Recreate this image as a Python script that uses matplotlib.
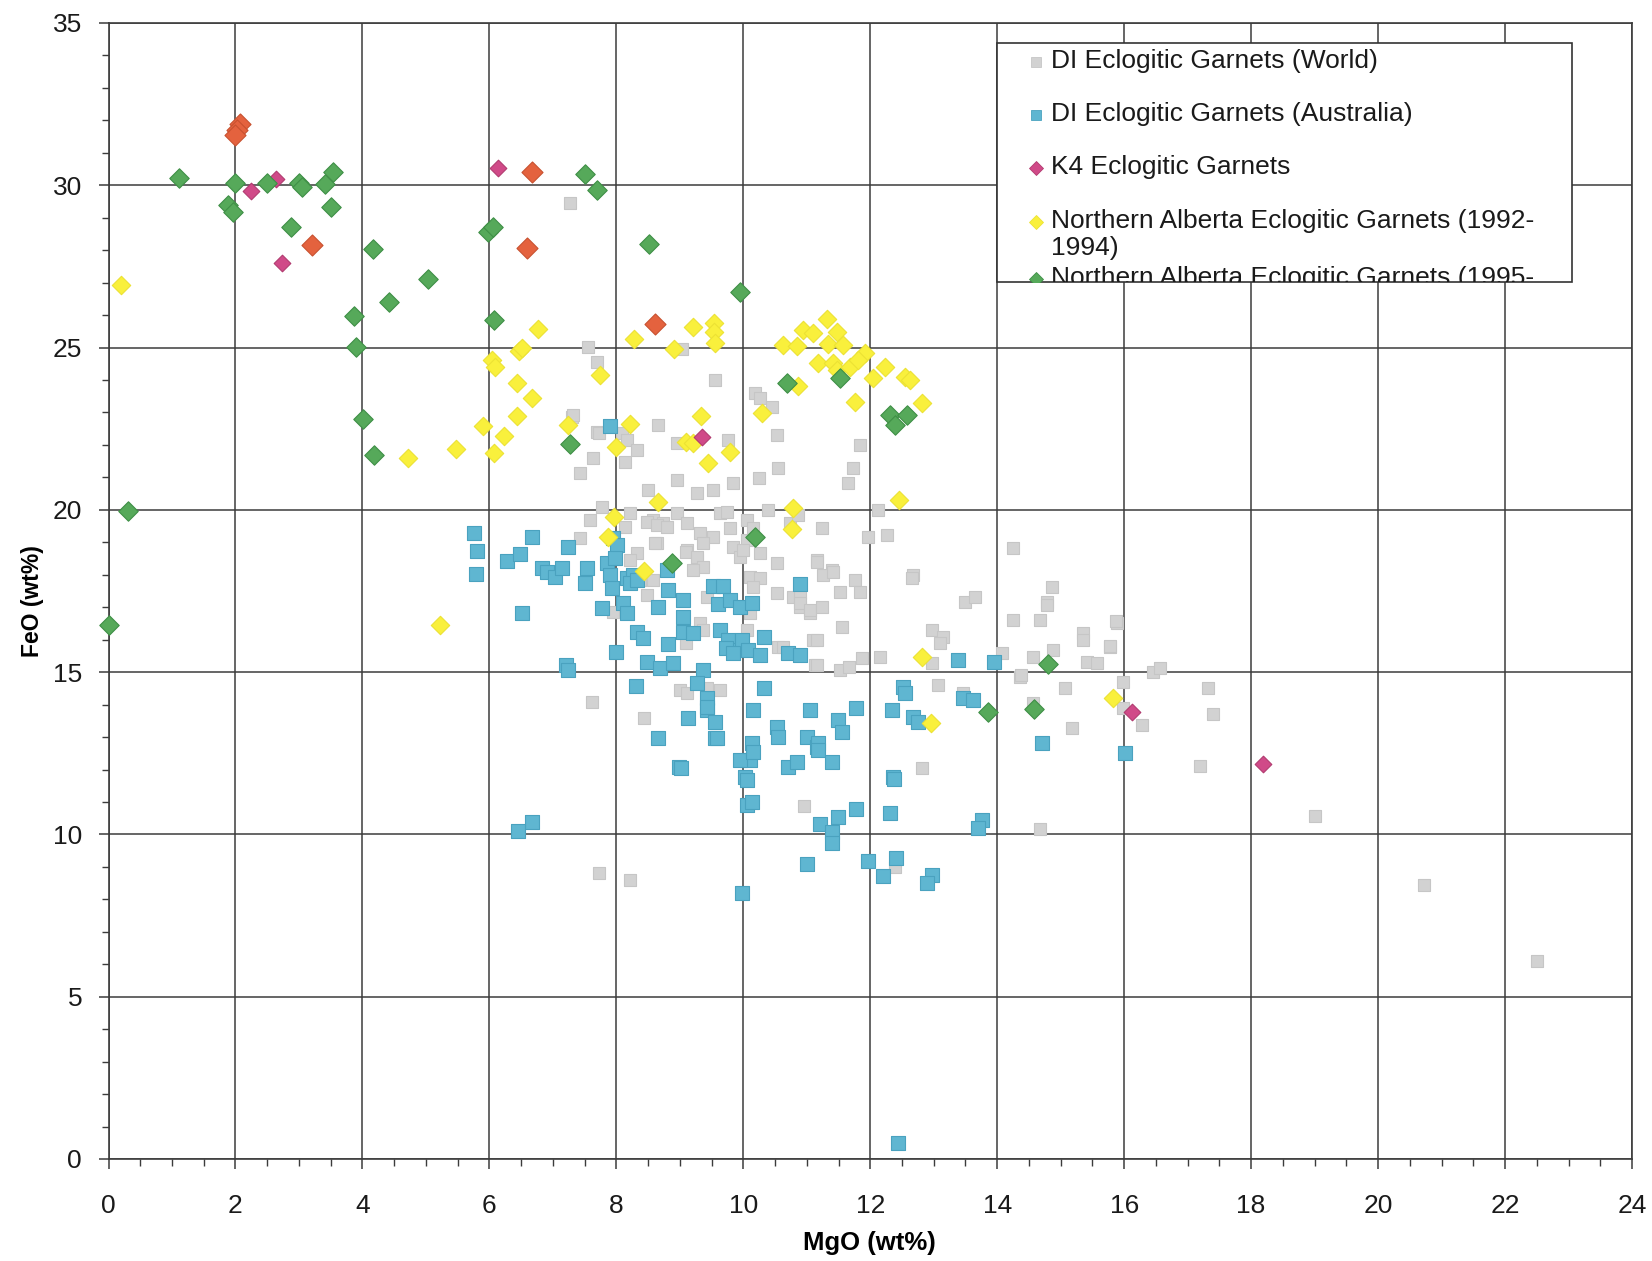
import matplotlib.pyplot as plt
from matplotlib.lines import Line2D
from matplotlib.patches import Rectangle
from matplotlib.ticker import MultipleLocator
from matplotlib.transforms import Bbox, TransformedBbox

plt.rcParams['font.family'] = 'Liberation Sans'

# DI eclogitic garnets, world dataset
world_mgo = [7.27, 7.55, 7.69, 7.3, 7.69, 7.63, 7.43, 9.04, 9.56, 10.19, 10.26, 10.45, 7.32, 7.73,
             8.09, 8.17, 8.33, 8.66, 8.14, 8.96, 9.76, 10.53, 11.84, 11.73, 11.65, 10.55, 10.25, 9.84,
             8.96, 8.5, 9.27, 9.52, 7.78, 8.22, 7.59, 8.14, 8.58, 8.74, 8.96, 9.11, 9.63, 9.74, 9.79,
             9.32, 9.52, 9.37, 10.06, 10.16, 10.06, 10.39, 10.74, 10.86, 11.24, 11.97, 12.12, 12.26,
             7.43, 8.64, 9.11, 9.27, 9.84, 9.95, 10.26, 10.53, 11.16, 11.4, 8.33, 8.22, 12.67, 8.48,
             8.64, 8.8, 8.61, 9.09, 9.27, 9.37, 9.21, 10.0, 10.1, 10.26, 10.16, 10.53, 9.68, 9.43,
             8.38, 8.58, 8.48, 7.95, 9.32, 9.37, 10.1, 10.06, 10.79, 10.9, 11.05, 10.55, 11.1, 9.09,
             11.13, 9.01, 9.11, 9.43, 9.63, 7.62, 8.44, 14.25, 11.16, 11.26, 11.42, 11.76, 11.84,
             11.52, 12.66, 13.49, 13.65, 14.86, 14.78, 14.78, 14.25, 14.67, 15.89, 15.35, 15.35,
             15.77, 14.88, 14.56, 15.41, 15.57, 14.08, 10.9, 10.9, 11.05, 11.24, 11.56, 11.16, 10.63,
             11.16, 11.52, 11.66, 11.87, 12.15, 12.97, 13.15, 13.1, 12.97, 14.36, 15.98, 15.07, 13.07,
             13.46, 14.56, 15.98, 16.28, 15.18, 12.82, 16.45, 16.56, 17.32, 17.4, 17.19, 19.01, 14.67,
             20.72, 22.5, 7.72, 8.22, 10.96, 12.39, 15.87, 15.78, 14.38]
world_feo = [29.45, 25.02, 24.55, 22.86, 22.4, 21.6, 21.13, 24.95, 24.0, 23.6, 23.44, 23.17, 22.92, 22.37,
             22.37, 22.15, 21.84, 22.61, 21.47, 22.06, 22.15, 22.3, 22.0, 21.29, 20.83, 21.29, 20.98, 20.83,
             20.92, 20.61, 20.52, 20.61, 20.09, 19.9, 19.69, 19.47, 19.69, 19.59, 19.9, 19.59, 19.9, 19.93,
             19.44, 19.28, 19.16, 18.98, 19.69, 19.44, 19.07, 19.99, 19.59, 19.84, 19.44, 19.16, 19.99,
             19.22, 19.13, 18.98, 18.76, 18.45, 18.85, 18.55, 18.67, 18.36, 18.45, 18.15, 18.67, 18.45,
             17.99, 19.62, 19.53, 19.47, 18.98, 18.7, 18.55, 18.24, 18.15, 18.76, 17.93, 17.9, 17.62,
             17.44, 17.62, 17.31, 17.84, 17.84, 17.38, 16.85, 16.51, 16.3, 16.82, 16.3, 17.31, 17.01,
             16.82, 15.77, 15.99, 15.9, 15.22, 14.45, 14.36, 14.51, 14.45, 14.08, 13.59, 18.82, 18.39,
             17.99, 18.08, 17.84, 17.47, 17.47, 17.9, 17.16, 17.31, 17.62, 17.16, 17.07, 16.6, 16.6,
             16.51, 16.2, 15.99, 15.77, 15.68, 15.47, 15.31, 15.28, 15.59, 17.44, 17.13, 16.91, 17.01,
             16.39, 15.99, 15.77, 15.22, 15.06, 15.16, 15.43, 15.47, 16.3, 16.08, 15.9, 15.28, 14.85,
             14.69, 14.51, 14.6, 14.36, 14.05, 13.89, 13.37, 13.28, 12.05, 15.0, 15.13, 14.51, 13.71,
             12.11, 10.57, 10.17, 8.44, 6.1, 8.81, 8.59, 10.87, 9.0, 16.57, 15.8, 14.91]

# DI eclogitic garnets, Australia
aus_mgo = [7.9, 5.75, 5.8, 5.79, 6.67, 6.28, 6.49, 7.24, 6.83, 6.91, 7.03, 7.14, 7.54, 7.51, 7.95, 8.01,
           7.85, 7.98, 7.9, 7.93, 8.17, 8.27, 8.22, 8.33, 7.78, 8.11, 8.17, 8.8, 8.81, 8.66, 9.05, 9.05,
           9.52, 9.68, 9.6, 9.79, 9.95, 10.14, 8.33, 8.42, 9.05, 9.21, 9.63, 9.76, 9.87, 9.72, 9.98, 9.84,
           10.08, 10.26, 10.32, 8.81, 8.0, 8.49, 8.69, 8.9, 9.37, 9.27, 9.43, 9.43, 9.56, 9.56, 9.13, 8.66,
           8.99, 8.31, 7.2, 7.24, 6.51, 10.32, 10.16, 11.05, 10.53, 10.55, 11.0, 11.16, 10.14, 10.1, 9.95,
           10.71, 10.85, 10.03, 10.9, 10.71, 10.9, 13.38, 13.95, 12.52, 12.55, 13.46, 13.62, 12.34, 12.68,
           12.75, 11.78, 11.49, 11.56, 11.18, 11.18, 11.4, 14.71, 16.01, 12.36, 6.67, 6.45, 9.02, 10.16,
           10.06, 10.06, 10.14, 11.78, 12.31, 12.37, 11.21, 11.49, 11.4, 11.4, 11.0, 11.96, 12.41, 12.2,
           12.97, 12.89, 9.98, 13.76, 13.69, 12.44, 9.43, 9.59]
aus_feo = [22.58, 19.28, 18.73, 18.02, 19.16, 18.42, 18.64, 18.85, 18.21, 18.08, 17.93, 18.21, 18.21, 17.75,
           19.13, 18.92, 18.36, 18.52, 17.99, 17.59, 17.9, 17.99, 17.75, 17.84, 16.97, 17.13, 16.82, 18.15,
           17.53, 17.01, 17.22, 16.7, 17.65, 17.65, 17.1, 17.22, 17.01, 17.13, 16.24, 16.05, 16.24, 16.2,
           16.3, 15.99, 15.68, 15.74, 15.99, 15.59, 15.68, 15.53, 16.08, 15.87, 15.62, 15.31, 15.13, 15.28,
           15.06, 14.66, 14.2, 13.83, 13.46, 12.97, 13.59, 12.97, 12.08, 14.57, 15.22, 15.06, 16.82, 14.51,
           13.83, 13.83, 13.31, 13.0, 13.0, 12.69, 12.82, 12.29, 12.29, 12.08, 12.23, 11.77, 17.71, 15.59,
           15.53, 15.37, 15.31, 14.54, 14.36, 14.2, 14.14, 13.83, 13.62, 13.46, 13.89, 13.52, 13.15, 12.82,
           12.6, 12.23, 12.82, 12.51, 11.77, 10.38, 10.1, 12.05, 12.54, 11.68, 10.9, 11.0, 10.78, 10.66,
           11.71, 10.32, 10.54, 10.07, 9.73, 9.09, 9.18, 9.27, 8.72, 8.75, 8.5, 8.19, 10.44, 10.2, 0.49,
           13.92, 12.97]

# K4 eclogitic garnets
k4_mgo = [2.24, 2.64, 2.73, 6.13, 9.35, 16.13, 18.18]
k4_feo = [29.82, 30.19, 27.6, 30.53, 22.24, 13.77, 12.17]

# Northern Alberta, 1992-1994
na92_mgo = [0.2, 4.72, 5.48, 5.9, 6.07, 6.23, 6.43, 6.67, 6.43, 6.04, 6.09, 6.47, 6.52, 6.77, 7.24, 7.74,
            8.28, 8.91, 9.21, 9.54, 9.54, 9.56, 10.63, 10.85, 10.94, 11.1, 11.32, 11.48, 11.34, 11.57,
            11.92, 11.18, 11.41, 11.48, 11.68, 11.81, 10.86, 12.04, 12.23, 12.55, 12.63, 12.82, 11.76,
            10.29, 8.21, 9.33, 9.1, 9.21, 8.0, 9.79, 9.45, 8.66, 10.79, 12.45, 7.97, 7.87, 10.77, 8.44,
            5.22, 12.82, 12.96, 15.83]
na92_feo = [26.93, 21.6, 21.87, 22.58, 21.75, 22.27, 22.89, 23.44, 23.9, 24.61, 24.4, 24.89, 25.0, 25.57,
            22.61, 24.15, 25.26, 24.95, 25.63, 25.75, 25.48, 25.14, 25.08, 25.05, 25.54, 25.45, 25.88,
            25.48, 25.11, 25.08, 24.83, 24.52, 24.52, 24.31, 24.4, 24.61, 23.81, 24.06, 24.4, 24.09, 24.0,
            23.29, 23.32, 22.98, 22.64, 22.89, 22.09, 22.06, 21.93, 21.78, 21.44, 20.24, 20.06, 20.3,
            19.78, 19.16, 19.41, 18.11, 16.45, 15.47, 13.43, 14.2]

# Northern Alberta, 1995 onwards
na95_mgo = [1.11, 1.99, 1.88, 1.96, 2.49, 3.0, 3.05, 3.41, 3.53, 3.5, 2.88, 4.17, 5.04, 4.42, 3.86, 3.9,
            4.01, 4.18, 5.98, 6.06, 6.07, 7.51, 7.7, 7.27, 8.52, 9.95, 10.69, 11.52, 12.31, 12.58, 12.39,
            10.18, 8.88, 0.0, 0.3, 14.8, 13.85, 14.58]
na95_feo = [30.22, 30.07, 29.39, 29.17, 30.07, 30.07, 29.94, 30.04, 30.41, 29.33, 28.71, 28.03, 27.11,
            26.4, 25.97, 25.02, 22.8, 21.69, 28.56, 28.71, 25.85, 30.34, 29.85, 22.03, 28.19, 26.71, 23.91,
            24.06, 22.92, 22.92, 22.61, 19.16, 18.36, 16.45, 19.95, 15.25, 13.77, 13.86]

# sixth series (legend entry falls outside the legend box)
red_mgo = [2.07, 2.03, 2.0, 3.21, 6.67, 6.59, 8.61]
red_feo = [31.9, 31.7, 31.55, 28.16, 30.41, 28.06, 25.72]

legend_labels = ['DI Eclogitic Garnets (World)',
                 'DI Eclogitic Garnets (Australia)',
                 'K4 Eclogitic Garnets',
                 'Northern Alberta Eclogitic Garnets (1992-\n1994)',
                 'Northern Alberta Eclogitic Garnets (1995-']

W, H = 1652, 1261
fig = plt.figure(figsize=(W / 100, H / 100), dpi=100)
ax = fig.add_axes([108.5 / W, (H - 1159) / H, 1523.5 / W, 1136 / H])

series = [
    (world_mgo, world_feo, 's', 84, '#d2d2d2', '#c6c6c6'),
    (aus_mgo, aus_feo, 's', 88, '#5fb6d1', '#4aa2bf'),
    (na92_mgo, na92_feo, 'D', 88, '#f9f03c', '#ece234'),
    (k4_mgo, k4_feo, 'D', 72, '#d04a88', '#b13b70'),
    (na95_mgo, na95_feo, 'D', 98, '#56a95a', '#3f8f46'),
    (red_mgo, red_feo, 'D', 115, '#e4623e', '#c8512f'),
]
for mgo, feo, marker, size, face, edge in series:
    ax.scatter(mgo, feo, marker=marker, s=size, c=face, edgecolors=edge,
               linewidths=0.8, clip_on=False, zorder=3)

ax.set_xlim(0, 24)
ax.set_ylim(0, 35)
ax.xaxis.set_major_locator(MultipleLocator(2))
ax.xaxis.set_minor_locator(MultipleLocator(0.5))
ax.yaxis.set_major_locator(MultipleLocator(5))
ax.yaxis.set_minor_locator(MultipleLocator(1))
ax.grid(which='major', color='#3c3c3c', linewidth=1.1)
ax.set_axisbelow(True)
for sp in ax.spines.values():
    sp.set_color('#3c3c3c')
    sp.set_linewidth(1.2)

ax.tick_params(which='major', direction='out', length=7, width=1.1,
               color='#3c3c3c', labelsize=19, labelcolor='#1a1a1a')
ax.tick_params(which='minor', direction='out', length=5, width=1, color='#3c3c3c')
ax.tick_params(axis='x', which='major', pad=18)
ax.tick_params(axis='y', which='major', pad=12)

ax.set_xlabel('MgO (wt%)', fontsize=18.5, fontweight='bold', va='center')
ax.xaxis.set_label_coords((869 - 108.5) / 1523.5, (1159 - 1243) / 1136)
ax.set_ylabel('FeO (wt%)', fontsize=16.5, fontweight='bold', va='center')
ax.yaxis.set_label_coords((32 - 108.5) / 1523.5, (1159 - 601) / 1136)


def fx(px):
    return px / W


def fy(py):
    return 1 - py / H


# legend box, fixed size, with the entries cut off at its lower edge
bx0, by0, bx1, by1 = 997, 43, 1572, 282
box = Rectangle((fx(bx0), fy(by1)), fx(bx1) - fx(bx0), fy(by0) - fy(by1),
                transform=fig.transFigure, facecolor='white', edgecolor='#333333',
                linewidth=1.2, zorder=5)
fig.add_artist(box)
clip = TransformedBbox(Bbox([[fx(bx0), fy(by1)], [fx(bx1), fy(by0)]]), fig.transFigure)

entry_y = [62, 115, 168, 222, 279]
handles = [series[0], series[1], series[3], series[2], series[4]]
for label, ypix, (_, _, marker, size, face, edge) in zip(legend_labels, entry_y, handles):
    ms = 6.5 if marker == 's' else 7.5
    mk = Line2D([fx(1036)], [fy(ypix)], marker=marker, markersize=ms, color=face,
                markeredgecolor=edge, markeredgewidth=0.6, linestyle='none',
                transform=fig.transFigure, zorder=6)
    mk.set_clip_box(clip)
    mk.set_clip_on(True)
    fig.add_artist(mk)
    txt = fig.text(fx(1051), fy(ypix - 13), label, ha='left', va='top', fontsize=19,
                   color='#1a1a1a', linespacing=1.15, zorder=6)
    txt.set_clip_box(clip)
    txt.set_clip_on(True)

fig.savefig('out.png', dpi=100, facecolor='white')
